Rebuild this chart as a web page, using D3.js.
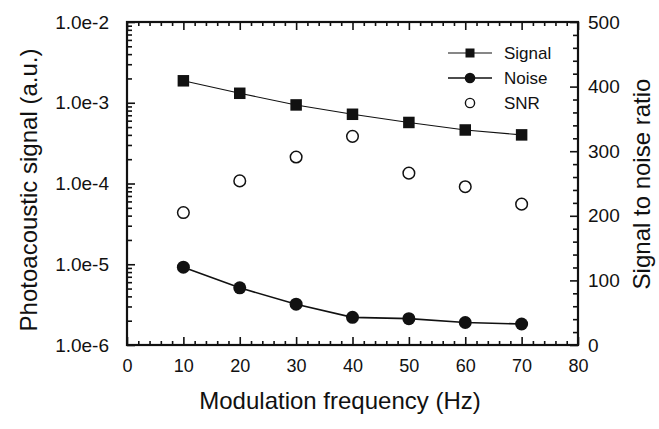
<!DOCTYPE html>
<html><head><meta charset="utf-8">
<script src="https://cdn.jsdelivr.net/npm/d3@7/dist/d3.min.js"></script>
<style>
body{margin:0;background:#fff}
text{font-family:"Liberation Sans",Arial,Helvetica,sans-serif;fill:#111}
</style>
</head><body>
<svg id="c" width="659" height="429"></svg>
<script>
const freq = [10, 20, 30, 40, 50, 60, 70];
const signal = [1.87e-3, 1.31e-3, 9.4e-4, 7.2e-4, 5.7e-4, 4.6e-4, 4.0e-4];
const noise = [9.2e-6, 5.1e-6, 3.2e-6, 2.2e-6, 2.12e-6, 1.9e-6, 1.82e-6];
const snr = [205, 254, 291, 323, 266, 245, 218];
const xTicks = [0, 10, 20, 30, 40, 50, 60, 70, 80];
const yLeftTicks = [1e-6, 1e-5, 1e-4, 1e-3, 1e-2];
const yLeftLabels = ["1.0e-6", "1.0e-5", "1.0e-4", "1.0e-3", "1.0e-2"];
const yRightTicks = [0, 100, 200, 300, 400, 500];
const legendLabels = ["Signal", "Noise", "SNR"];
const xTitle = "Modulation frequency (Hz)";
const yLeftTitle = "Photoacoustic signal (a.u.)";
const yRightTitle = "Signal to noise ratio";

const svg = d3.select("#c");
const L = 127, R = 578, T = 22, B = 345;
const x = d3.scaleLinear().domain([0, 80]).range([L, R]);
const yl = d3.scaleLog().domain([1e-6, 1e-2]).range([B, T]);
const yr = d3.scaleLinear().domain([0, 500]).range([B, T]);
const ink = "#111";

// minor tick values
const xMinor = d3.range(0, 81, 2).filter(v => v % 10 !== 0);
const yMinor = [];
for (let e = -6; e < -2; e++) for (let m = 2; m <= 9; m++) yMinor.push(m * Math.pow(10, e));
const yrMinor = d3.range(0, 501, 20).filter(v => v % 100 !== 0);

function styleAxis(g) {
  g.select(".domain").remove();
  g.selectAll(".tick line").attr("stroke", ink).attr("stroke-width", 1.6);
}

// bottom
svg.append("g").attr("transform", `translate(0,${B})`)
  .call(d3.axisBottom(x).tickValues(xTicks).tickSize(-8).tickPadding(14).tickFormat(d3.format("d")))
  .call(styleAxis)
  .call(g => g.selectAll("text").attr("font-size", 18).attr("fill", ink));
svg.append("g").attr("transform", `translate(0,${B})`)
  .call(d3.axisBottom(x).tickValues(xMinor).tickSize(-4).tickFormat(""))
  .call(styleAxis);
// top
svg.append("g").attr("transform", `translate(0,${T})`)
  .call(d3.axisTop(x).tickValues(xTicks).tickSize(-8).tickFormat(""))
  .call(styleAxis);
svg.append("g").attr("transform", `translate(0,${T})`)
  .call(d3.axisTop(x).tickValues(xMinor).tickSize(-4).tickFormat(""))
  .call(styleAxis);
// left
svg.append("g").attr("transform", `translate(${L},0)`)
  .call(d3.axisLeft(yl).tickValues(yLeftTicks).tickSize(-8).tickPadding(18)
    .tickFormat((d, i) => yLeftLabels[i]))
  .call(styleAxis)
  .call(g => g.selectAll("text").attr("font-size", 19).attr("fill", ink));
svg.append("g").attr("transform", `translate(${L},0)`)
  .call(d3.axisLeft(yl).tickValues(yMinor).tickSize(-5).tickFormat(""))
  .call(styleAxis);
// right
svg.append("g").attr("transform", `translate(${R},0)`)
  .call(d3.axisRight(yr).tickValues(yRightTicks).tickSize(-8).tickPadding(10).tickFormat(d3.format("d")))
  .call(styleAxis)
  .call(g => g.selectAll("text").attr("font-size", 19).attr("fill", ink));
svg.append("g").attr("transform", `translate(${R},0)`)
  .call(d3.axisRight(yr).tickValues(yrMinor).tickSize(-5).tickFormat(""))
  .call(styleAxis);

// frame
svg.append("rect").attr("x", L).attr("y", T).attr("width", R - L).attr("height", B - T)
  .attr("fill", "none").attr("stroke", ink).attr("stroke-width", 2.2);

// data
const sigData = freq.map((f, i) => [f, signal[i]]);
const noiData = freq.map((f, i) => [f, noise[i]]);
const snrData = freq.map((f, i) => [f, snr[i]]);

svg.append("path").datum(sigData)
  .attr("d", d3.line().x(d => x(d[0])).y(d => yl(d[1])))
  .attr("fill", "none").attr("stroke", ink).attr("stroke-width", 1.1);
svg.append("path").datum(noiData)
  .attr("d", d3.line().x(d => x(d[0])).y(d => yl(d[1])))
  .attr("fill", "none").attr("stroke", ink).attr("stroke-width", 1.6);

const sq = 11.5;
svg.selectAll(".sq").data(sigData).enter().append("rect")
  .attr("x", d => x(d[0]) - sq / 2).attr("y", d => yl(d[1]) - sq / 2)
  .attr("width", sq).attr("height", sq).attr("fill", ink);
svg.selectAll(".nc").data(noiData).enter().append("circle")
  .attr("cx", d => x(d[0])).attr("cy", d => yl(d[1])).attr("r", 6.5).attr("fill", ink);
svg.selectAll(".sc").data(snrData).enter().append("circle")
  .attr("cx", d => x(d[0])).attr("cy", d => yr(d[1])).attr("r", 5.8)
  .attr("fill", "#fff").attr("stroke", ink).attr("stroke-width", 1.5);

// legend
const lg = svg.append("g");
const rows = [53, 78, 103];
legendLabels.forEach((lab, i) => {
  const y0 = rows[i];
  if (i < 2) {
    lg.append("line").attr("x1", 448).attr("x2", 492).attr("y1", y0).attr("y2", y0)
      .attr("stroke", ink).attr("stroke-width", i === 0 ? 1.1 : 1.6);
  }
  if (i === 0) lg.append("rect").attr("x", 470 - 4.5).attr("y", y0 - 4.5).attr("width", 9).attr("height", 9).attr("fill", ink);
  if (i === 1) lg.append("circle").attr("cx", 470).attr("cy", y0).attr("r", 5.3).attr("fill", ink);
  if (i === 2) lg.append("circle").attr("cx", 470).attr("cy", y0).attr("r", 4.6).attr("fill", "#fff").attr("stroke", ink).attr("stroke-width", 1.4);
  lg.append("text").attr("x", 504).attr("y", y0).attr("dy", "0.36em").attr("font-size", 17).text(lab);
});

// titles
svg.append("text").attr("x", 340).attr("y", 409).attr("text-anchor", "middle")
  .attr("font-size", 24).text(xTitle);
svg.append("text").attr("transform", `translate(37,190) rotate(-90)`).attr("text-anchor", "middle")
  .attr("font-size", 24).text(yLeftTitle);
svg.append("text").attr("transform", `translate(650,184) rotate(-90)`).attr("text-anchor", "middle")
  .attr("font-size", 24).text(yRightTitle);
</script>
</body></html>
